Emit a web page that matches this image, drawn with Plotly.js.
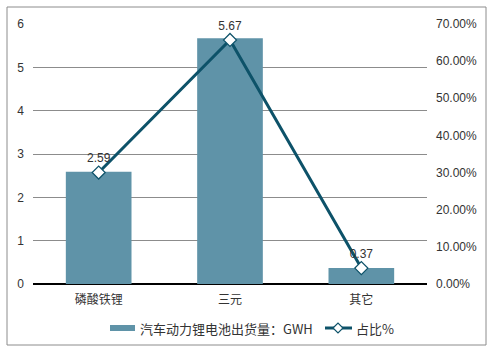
<!DOCTYPE html>
<html><head><meta charset="utf-8">
<script src="https://cdn.plot.ly/plotly-3.0.1.min.js"></script>
<style>html,body{margin:0;padding:0;background:#fff}#c{width:498px;height:354px}</style>
</head><body><div id="c"></div>
<script>
const categories = ['磷酸铁锂', '三元', '其它'];
const shipments = [2.59, 5.67, 0.37];
const shares = [30.01, 65.70, 4.29];
const barName = '汽车动力锂电池出货量：GWH';
const lineName = '占比%';
const rightTicks = [0, 10, 20, 30, 40, 50, 60, 70];

const W = 498, H = 354, L = 33, R = 71, T = 24, B = 70;
const pw = W - L - R, ph = H - T - B;
const px = v => (v - L) / pw, py = v => (H - B - v) / ph;
const barColor = '#5f93a8', lineColor = '#0d5269';

const data = [
  {type: 'bar', x: categories, y: shipments, name: barName, marker: {color: barColor}, hoverinfo: 'none'},
  {type: 'scatter', mode: 'lines+markers+text', x: categories, y: shares, yaxis: 'y2', name: lineName,
   line: {color: lineColor, width: 3}, marker: {symbol: 'diamond', size: 10, color: '#fff', line: {color: lineColor, width: 1.2}},
   text: shipments.map(v => v.toFixed(2)), textposition: 'top center', textfont: {size: 12, color: '#333'}, cliponaxis: false}
];
const ly = py(328);
const dx = 5 / pw, dy = 5 / ph, cx = px(338);
const layout = {
  width: W, height: H, margin: {l: L, r: R, t: T, b: B},
  paper_bgcolor: '#fff', plot_bgcolor: '#fff',
  font: {family: 'Arial, "Liberation Sans", "Noto Sans CJK SC", sans-serif', size: 12, color: '#333'},
  bargap: 0.5, showlegend: false,
  xaxis: {showline: false, ticks: '', ticklabelstandoff: 7, tickfont: {size: 12, family: '"Noto Sans CJK SC", sans-serif'}},
  yaxis: {range: [0, 6], dtick: 1, showgrid: true, gridcolor: '#8c8c8c', gridwidth: 1, zeroline: true, zerolinecolor: '#000', zerolinewidth: 1.2,
          ticks: '', ticklabelstandoff: 8, tickfont: {size: 12}},
  yaxis2: {range: [0, 70], overlaying: 'y', side: 'right', tickvals: rightTicks, ticktext: rightTicks.map(v => v.toFixed(2) + '%'),
           showgrid: false, zeroline: false, ticks: '', ticklabelstandoff: 8, tickfont: {size: 12}},
  shapes: [
    {type: 'rect', xref: 'paper', yref: 'paper', x0: px(7), x1: px(486), y0: py(345), y1: py(7), line: {color: '#8c8c8c', width: 1}},
    {type: 'rect', xref: 'paper', yref: 'paper', x0: px(110), x1: px(135), y0: py(331), y1: py(325), fillcolor: barColor, line: {width: 0}},
    {type: 'line', xref: 'paper', yref: 'paper', x0: px(325), x1: px(352), y0: ly, y1: ly, line: {color: lineColor, width: 3}},
    {type: 'path', xref: 'paper', yref: 'paper', path: `M ${cx - dx} ${ly} L ${cx} ${ly + dy} L ${cx + dx} ${ly} L ${cx} ${ly - dy} Z`, fillcolor: '#fff', line: {color: lineColor, width: 1.2}}
  ],
  annotations: [
    {xref: 'paper', yref: 'paper', x: px(138), y: ly, xanchor: 'left', yanchor: 'middle', showarrow: false, text: barName,
     font: {size: 13, family: '"Noto Sans CJK SC", sans-serif', color: '#333'}},
    {xref: 'paper', yref: 'paper', x: px(354), y: ly, xanchor: 'left', yanchor: 'middle', showarrow: false, text: lineName,
     font: {size: 13, family: '"Noto Sans CJK SC", sans-serif', color: '#333'}}
  ]
};
Plotly.newPlot('c', data, layout, {staticPlot: true});
</script></body></html>
